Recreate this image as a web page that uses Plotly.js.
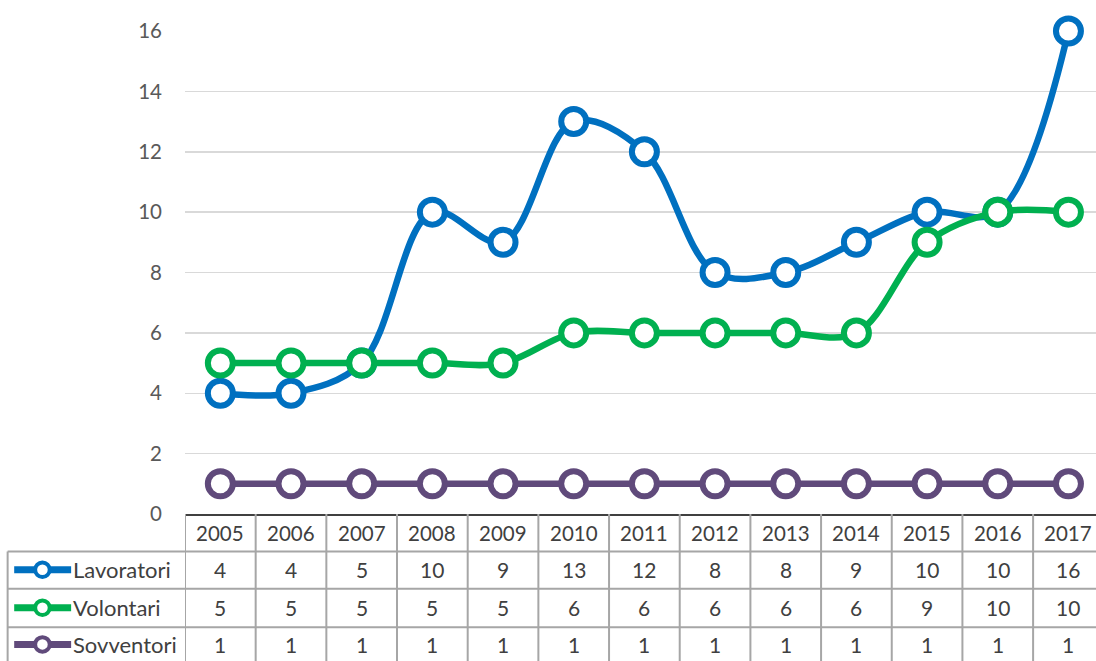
<!DOCTYPE html>
<html>
<head>
<meta charset="utf-8">
<script src="https://cdn.plot.ly/plotly-3.0.1.min.js"></script>
<style>html,body{margin:0;padding:0;background:#fff;}#chart{width:1096px;height:661px;}</style>
</head>
<body>
<div id="chart"></div>
<script>
var years = ['2005','2006','2007','2008','2009','2010','2011','2012','2013','2014','2015','2016','2017'];
var seriesNames = ['Lavoratori','Volontari','Sovventori'];
var lavoratori = [4,4,5,10,9,13,12,8,8,9,10,10,16];
var volontari = [5,5,5,5,5,6,6,6,6,6,9,10,10];
var sovventori = [1,1,1,1,1,1,1,1,1,1,1,1,1];
var colors = ['#0070C0','#00B050','#604A7B'];
var yTicks = [0,2,4,6,8,10,12,14,16];

var allSeries = [lavoratori, volontari, sovventori];
var xIdx = years.map(function(_, i){ return i; });

var traces = allSeries.map(function(vals, k){
  return {
    x: xIdx, y: vals, type: 'scatter', mode: 'lines+markers', name: seriesNames[k],
    line: {color: colors[k], width: 6.5, shape: 'spline', smoothing: 1},
    marker: {symbol: 'circle', size: 25, color: '#FFFFFF', line: {color: colors[k], width: 6}},
    cliponaxis: false, showlegend: false, hoverinfo: 'skip'
  };
});

var rowCenters = [-0.039, -0.1155, -0.194, -0.270];
var rowLines = [0, -0.0776, -0.1548, -0.2345, -0.31];
var tableLeft = -0.1947;
var borderColor = '#A6A6A6';
var textColor = '#404040';
var fontFam = 'Lato, "Open Sans", sans-serif';

var shapes = [];
var annotations = [];

for (var r = 1; r < rowLines.length - 1; r++) {
  shapes.push({type:'line', xref:'paper', yref:'paper', x0: tableLeft, x1: 1.01, y0: rowLines[r], y1: rowLines[r], line:{color:borderColor, width:2}});
}
shapes.push({type:'line', xref:'paper', yref:'paper', x0: tableLeft, x1: tableLeft, y0: rowLines[1], y1: rowLines[4], line:{color:borderColor, width:2}});
for (var c = 0; c <= years.length; c++) {
  var xx = c - 0.5;
  shapes.push({type:'line', xref:'x', yref:'paper', x0: xx, x1: xx, y0: 0, y1: rowLines[4], line:{color:borderColor, width:2}});
}

years.forEach(function(yr, j){
  annotations.push({xref:'x', yref:'paper', x: j, y: rowCenters[0], text: yr, showarrow:false,
    xanchor:'center', yanchor:'middle', font:{family:fontFam, size:20.5, color:textColor}});
});
allSeries.forEach(function(vals, k){
  vals.forEach(function(v, j){
    annotations.push({xref:'x', yref:'paper', x: j, y: rowCenters[k+1], text: String(v), showarrow:false,
      xanchor:'center', yanchor:'middle', font:{family:fontFam, size:21, color:textColor}});
  });
  annotations.push({xref:'paper', yref:'paper', x: -0.125, y: rowCenters[k+1], text: seriesNames[k], showarrow:false,
    xanchor:'left', yanchor:'middle', font:{family:fontFam, size:22, color:textColor}});
  shapes.push({type:'line', xref:'paper', yref:'paper', x0: -0.1875, x1: -0.125, y0: rowCenters[k+1], y1: rowCenters[k+1],
    line:{color: colors[k], width: 7}});
  shapes.push({type:'circle', xref:'paper', yref:'paper', x0: -0.1645, x1: -0.1485,
    y0: rowCenters[k+1] - 0.0150, y1: rowCenters[k+1] + 0.0150,
    fillcolor:'#FFFFFF', line:{color: colors[k], width: 4}});
});

var layout = {
  width: 1096, height: 661,
  margin: {l: 185, r: 0, t: 31, b: 147, pad: 0},
  paper_bgcolor: '#FFFFFF', plot_bgcolor: '#FFFFFF',
  showlegend: false,
  xaxis: {range: [-0.5, 12.39], showticklabels: false, ticks: '', showgrid: false, zeroline: false,
    showline: true, linecolor: '#404040', linewidth: 2, fixedrange: true},
  yaxis: {range: [0, 16], tickvals: yTicks, ticktext: yTicks.map(String), showgrid: true, gridcolor: '#D9D9D9', gridwidth: 1.5,
    zeroline: false, showline: false, ticks: '', ticklabelstandoff: 22,
    tickfont: {family: fontFam, size: 20.5, color: '#595959'}, fixedrange: true},
  shapes: shapes,
  annotations: annotations
};

Plotly.newPlot('chart', traces, layout, {staticPlot: true, displayModeBar: false});
</script>
</body>
</html>
